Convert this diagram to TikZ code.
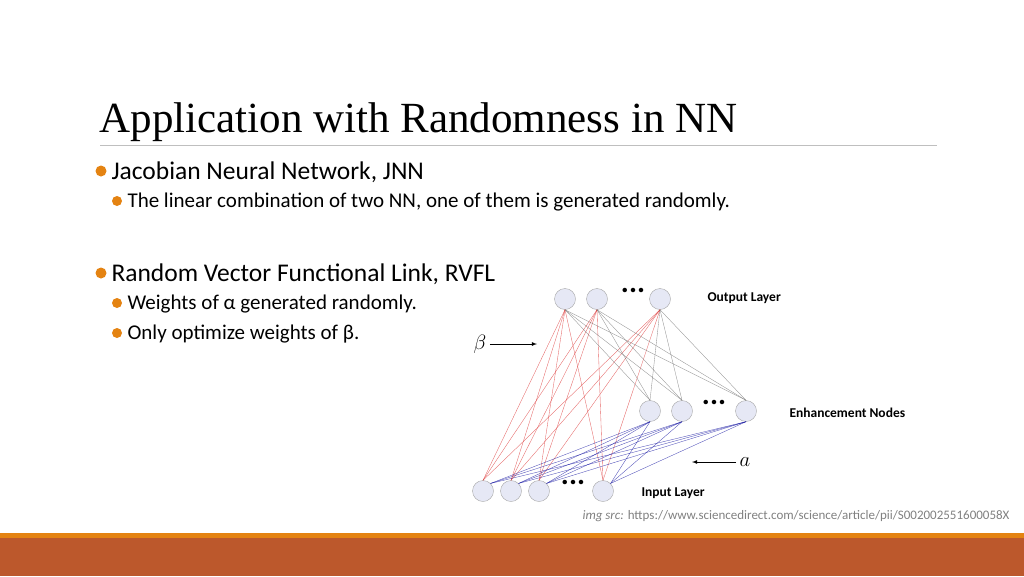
\documentclass[tikz,border=0pt]{standalone}
\usepackage{fontspec}
\setmainfont{Carlito}
\newfontfamily\titlefont{Liberation Serif}
\usetikzlibrary{positioning}
\definecolor{bulletorange}{HTML}{E48312}
\definecolor{barred}{HTML}{BC582C}
\definecolor{neuronfill}{HTML}{E6E8F5}
\tikzset{
  neuron/.style={circle, draw=gray!70, fill=neuronfill, minimum size=21pt, inner sep=0pt},
  redw/.style={red!70!gray, line width=0.35pt, opacity=0.7},
  bluew/.style={blue!60!black, line width=0.35pt, opacity=0.7},
  grayw/.style={gray!80!black, line width=0.35pt, opacity=0.7},
  layerlabel/.style={font=\fontsize{13.5}{15}\selectfont\bfseries, anchor=west},
  dotsym/.style={font=\fontsize{30}{30}\selectfont\bfseries},
  bulletdot/.style={circle, fill=bulletorange, inner sep=0pt, minimum size=11pt}
}
\begin{document}
\begin{tikzpicture}[x=1pt, y=-1pt]
  \useasboundingbox (0,0) rectangle (1024,576);
  % title and rule
  \node[anchor=west, font=\titlefont\fontsize{43}{46}\selectfont] (title) at (96,122) {Application with Randomness in NN};
  \draw[gray!50, line width=0.8pt] (100,145) -- (937,145);
  % bullets
  \node[bulletdot] (b1) at (101,171) {};
  \node[anchor=west, font=\fontsize{25.5}{28}\selectfont] (t1) at (108,172) {Jacobian Neural Network, JNN};
  \node[bulletdot, minimum size=10pt] (b2) at (117,201) {};
  \node[anchor=west, font=\fontsize{21}{23}\selectfont] (t2) at (124,202) {The linear combination of two NN, one of them is generated randomly.};
  \node[bulletdot] (b3) at (101,273) {};
  \node[anchor=west, font=\fontsize{25.5}{28}\selectfont] (t3) at (108,274) {Random Vector Functional Link, RVFL};
  \node[bulletdot, minimum size=10pt] (b4) at (117,303) {};
  \node[anchor=west, font=\fontsize{21}{23}\selectfont] (t4) at (124,304) {Weights of α generated randomly.};
  \node[bulletdot, minimum size=10pt] (b5) at (117,333) {};
  \node[anchor=west, font=\fontsize{21}{23}\selectfont] (t5) at (124,334) {Only optimize weights of β.};
  % network
  \foreach \n/\x in {1/565, 2/597, 3/660} \node[neuron] (o\n) at (\x,299) {};
  \foreach \n/\x in {1/650, 2/682, 3/746} \node[neuron] (e\n) at (\x,411) {};
  \foreach \n/\x in {1/483, 2/511, 3/539, 4/603} \node[neuron] (i\n) at (\x,491) {};
  \node[dotsym] (od) at (633,290) {...};
  \node[dotsym] (ed) at (714,402) {...};
  \node[dotsym] (id) at (573,482) {...};
  \foreach \i in {1,...,4} \foreach \o in {1,2,3} \draw[redw] (i\i.north) -- (o\o.south);
  \foreach \e in {1,2,3} \foreach \o in {1,2,3} \draw[grayw] (e\e.north) -- (o\o.south);
  \foreach \i in {1,...,4} \foreach \e in {1,2,3} \draw[bluew] (i\i.north east) -- (e\e.south);
  \node[layerlabel] (ol) at (704,298) {Output Layer};
  \node[layerlabel] (el) at (786,413) {Enhancement Nodes};
  \node[layerlabel] (il) at (638,493) {Input Layer};
  \node[font=\fontsize{22}{22}\selectfont] (beta) at (480,344) {$\beta$};
  \coordinate (betaend) at (537,344);
  \draw[-latex, thick] (beta.east) -- (betaend);
  \node[font=\fontsize{22}{22}\selectfont] (alpha) at (745,462) {$a$};
  \coordinate (alphaend) at (692,462);
  \draw[-latex, thick] (alpha.west) -- (alphaend);
  % source
  \node[anchor=east, text=gray, font=\fontsize{13}{15}\selectfont] (src) at (1013,516) {\textit{img src:} https://www.sciencedirect.com/science/article/pii/S002002551600058X};
  % bottom bars
  \fill[bulletorange] (0,533) rectangle (1024,538);
  \fill[barred] (0,538) rectangle (1024,576);
\end{tikzpicture}
\end{document}
